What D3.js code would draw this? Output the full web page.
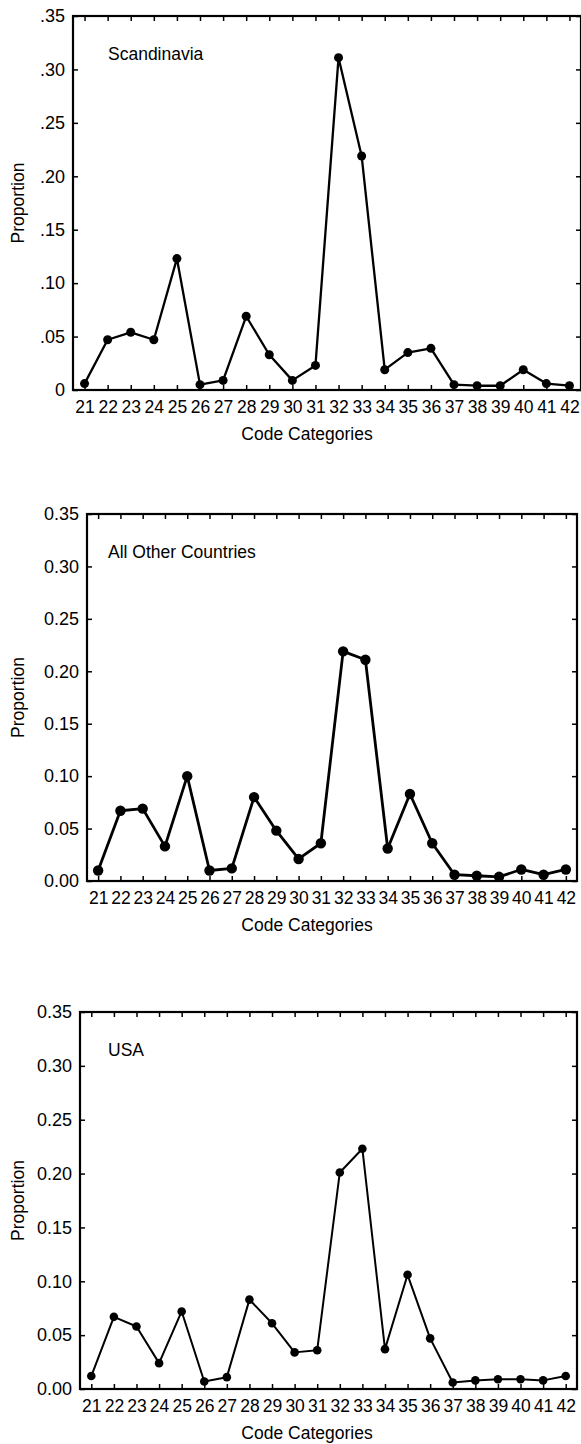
<!DOCTYPE html>
<html>
<head>
<meta charset="utf-8">
<script src="https://cdn.jsdelivr.net/npm/d3@7/dist/d3.min.js"></script>
<style>
	body { margin: 0; background: #fff; }
	text { font-family: "Liberation Sans", Arial, sans-serif; fill: #000; }
</style>
</head>
<body>
<div id="chart"></div>
<script>
var categories = [21, 22, 23, 24, 25, 26, 27, 28, 29, 30, 31, 32, 33, 34, 35, 36, 37, 38, 39, 40, 41, 42];

var scandinavia = [0.006, 0.047, 0.054, 0.047, 0.123, 0.005, 0.009, 0.069, 0.033, 0.009, 0.023,
	0.311, 0.219, 0.019, 0.035, 0.039, 0.005, 0.004, 0.004, 0.019, 0.006, 0.004];

var otherCountries = [0.010, 0.067, 0.069, 0.033, 0.100, 0.010, 0.012, 0.080, 0.048, 0.021, 0.036,
	0.219, 0.211, 0.031, 0.083, 0.036, 0.006, 0.005, 0.004, 0.011, 0.006, 0.011];

var usa = [0.012, 0.067, 0.058, 0.024, 0.072, 0.007, 0.011, 0.083, 0.061, 0.034, 0.036,
	0.201, 0.223, 0.037, 0.106, 0.047, 0.006, 0.008, 0.009, 0.009, 0.008, 0.012];

var yTicks = [0, 0.05, 0.10, 0.15, 0.20, 0.25, 0.30, 0.35];

var fmtShort = function (d) {
	return d === 0 ? "0" : d3.format(".2f")(d).replace(/^0/, "");
};

// layout of the three stacked panels
var panels = [
	{ title: "Scandinavia", values: scandinavia, left: 73, right: 581, top: 16, bottom: 390, fmt: fmtShort, r: 4.5, lw: 2.3 },
	{ title: "All Other Countries", values: otherCountries, left: 87, right: 577, top: 514, bottom: 881, fmt: d3.format(".2f"), r: 5.2, lw: 2.8 },
	{ title: "USA", values: usa, left: 80, right: 577, top: 1012, bottom: 1389, fmt: d3.format(".2f"), r: 4.3, lw: 2 }
];

var svg = d3.select("#chart").append("svg")
	.attr("width", 581)
	.attr("height", 1444);

panels.forEach(function (p) {
	var x = d3.scaleLinear()
		.domain([20.5, 42.5])
		.range([p.left, p.right]);

	var y = d3.scaleLinear()
		.domain([0, 0.35])
		.range([p.bottom, p.top]);

	var g = svg.append("g");

	// inward ticks on all four sides
	g.append("g")
	.attr("class", "yaxis")
	.attr("transform", "translate(" + p.left + ",0)")
	.call(d3.axisLeft(y).tickValues(yTicks).tickFormat(p.fmt).tickSize(-5).tickSizeOuter(0).tickPadding(8));

	g.append("g")
	.attr("transform", "translate(" + p.right + ",0)")
	.call(d3.axisRight(y).tickValues(yTicks).tickFormat("").tickSize(-5).tickSizeOuter(0));

	g.append("g")
	.attr("class", "xaxis")
	.attr("transform", "translate(0," + p.bottom + ")")
	.call(d3.axisBottom(x).tickValues(categories).tickSize(-5).tickSizeOuter(0).tickPadding(11));

	g.append("g")
	.attr("transform", "translate(0," + p.top + ")")
	.call(d3.axisTop(x).tickValues(categories).tickFormat("").tickSize(-5).tickSizeOuter(0));

	g.selectAll(".domain").remove();
	g.selectAll(".tick line").attr("stroke", "#000").attr("stroke-width", 1.5);
	g.selectAll(".tick text").attr("fill", "#000");
	g.selectAll(".yaxis .tick text").style("font-size", "18px");
	g.selectAll(".xaxis .tick text").style("font-size", "17.5px");

	// frame
	g.append("rect")
	.attr("x", p.left)
	.attr("y", p.top)
	.attr("width", p.right - p.left)
	.attr("height", p.bottom - p.top)
	.attr("fill", "none")
	.attr("stroke", "#000")
	.attr("stroke-width", 2.2);

	var pts = categories.map(function (c, i) {
			return [c, p.values[i]];
		});

	g.append("path")
	.datum(pts)
	.attr("fill", "none")
	.attr("stroke", "#000")
	.attr("stroke-width", p.lw)
	.attr("stroke-linejoin", "round")
	.attr("d", d3.line()
		.x(function (d) { return x(d[0]); })
		.y(function (d) { return y(d[1]); }));

	g.selectAll("circle")
	.data(pts)
	.enter().append("circle")
	.attr("cx", function (d) { return x(d[0]); })
	.attr("cy", function (d) { return y(d[1]); })
	.attr("r", p.r)
	.attr("fill", "#000");

	g.append("text")
	.attr("x", 108)
	.attr("y", p.top + 44)
	.style("font-size", "17.5px")
	.text(p.title);

	g.append("text")
	.attr("transform", "translate(24," + ((p.top + p.bottom) / 2) + ") rotate(-90)")
	.attr("text-anchor", "middle")
	.style("font-size", "17.5px")
	.text("Proportion");

	g.append("text")
	.attr("x", 307)
	.attr("y", p.bottom + 50)
	.attr("text-anchor", "middle")
	.style("font-size", "17.5px")
	.text("Code Categories");
});
</script>
</body>
</html>
